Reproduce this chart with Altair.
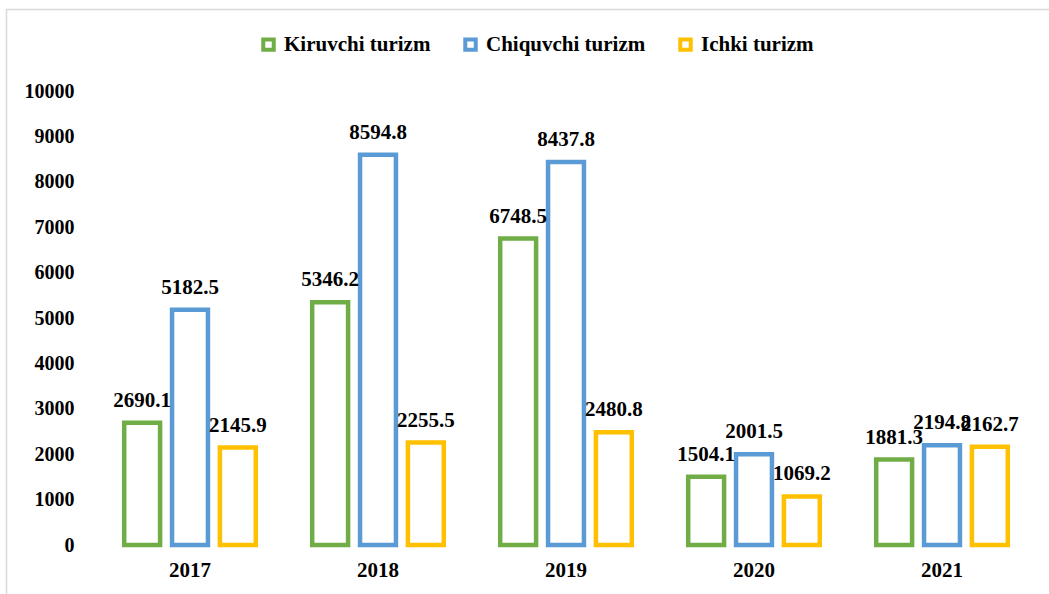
import altair as alt
import pandas as pd

years = ["2017", "2018", "2019", "2020", "2021"]
series = ["Kiruvchi turizm", "Chiquvchi turizm", "Ichki turizm"]
kiruvchi = [2690.1, 5346.2, 6748.5, 1504.1, 1881.3]
chiquvchi = [5182.5, 8594.8, 8437.8, 2001.5, 2194.8]
ichki = [2145.9, 2255.5, 2480.8, 1069.2, 2162.7]
colors = ["#70AD47", "#5B9BD5", "#FFC000"]
y_ticks = list(range(0, 10001, 1000))

rows = []
for s, vals in zip(series, [kiruvchi, chiquvchi, ichki]):
    for y, v in zip(years, vals):
        rows.append({"Yil": y, "Turizm": s, "Qiymat": v, "Label": f"{v:.1f}"})
df = pd.DataFrame(rows)

FONT = "Liberation Serif, Times New Roman, serif"

x_enc = alt.X("Yil:N", sort=years, title=None,
              scale=alt.Scale(paddingInner=0.30, paddingOuter=0.15),
              axis=alt.Axis(labelAngle=0, domain=False, ticks=False, labelFont=FONT,
                            labelFontSize=21, labelFontWeight="bold", labelColor="#000000",
                            labelPadding=14))
xo_enc = alt.XOffset("Turizm:N", sort=series,
                     scale=alt.Scale(paddingInner=0.25, paddingOuter=0))
y_enc = alt.Y("Qiymat:Q", title=None,
              scale=alt.Scale(domain=[0, 10000], nice=False),
              axis=alt.Axis(values=y_ticks, format="d", domain=False, ticks=False, grid=False,
                            labelFont=FONT, labelFontSize=20, labelFontWeight="bold",
                            labelColor="#000000", labelPadding=22))
color_enc = alt.Color("Turizm:N", sort=series,
                      scale=alt.Scale(domain=series, range=colors),
                      legend=alt.Legend(title=None, orient="none", direction="horizontal",
                                        legendX=162, legendY=-57,
                                        symbolType="square", symbolSize=110,
                                        symbolStrokeWidth=4, symbolFillColor="white",
                                        labelFont=FONT, labelFontSize=21,
                                        labelFontWeight="bold", labelColor="#000000",
                                        labelOffset=5, columnPadding=26, padding=0))

bars = alt.Chart(df).mark_bar(filled=False, strokeWidth=4.5).encode(
    x=x_enc, xOffset=xo_enc, y=y_enc, color=color_enc
)

labels = alt.Chart(df).mark_text(
    baseline="bottom", dy=-12, font=FONT, fontSize=21, fontWeight="bold", color="#000000"
).encode(
    x=alt.X("Yil:N", sort=years), xOffset=alt.XOffset("Turizm:N", sort=series),
    y="Qiymat:Q", text="Label:N"
)

border_top = alt.Chart(pd.DataFrame({"a": [0]})).mark_rule(
    color="#d9d9d9", strokeWidth=1.5
).encode(x=alt.value(-90), x2=alt.value(960), y=alt.value(-81.5))
border_left = alt.Chart(pd.DataFrame({"a": [0]})).mark_rule(
    color="#d9d9d9", strokeWidth=1.5
).encode(x=alt.value(-89.5), y=alt.value(-82), y2=alt.value(510))

chart = alt.layer(bars, labels, border_top, border_left).properties(
    width=940, height=454,
    autosize=alt.AutoSizeParams(type="none"),
    padding={"left": 96, "top": 91, "right": 13, "bottom": 49},
    background="white",
).configure_view(stroke=None)

chart.save("out.html", embed_options={"renderer": "svg", "actions": False})
